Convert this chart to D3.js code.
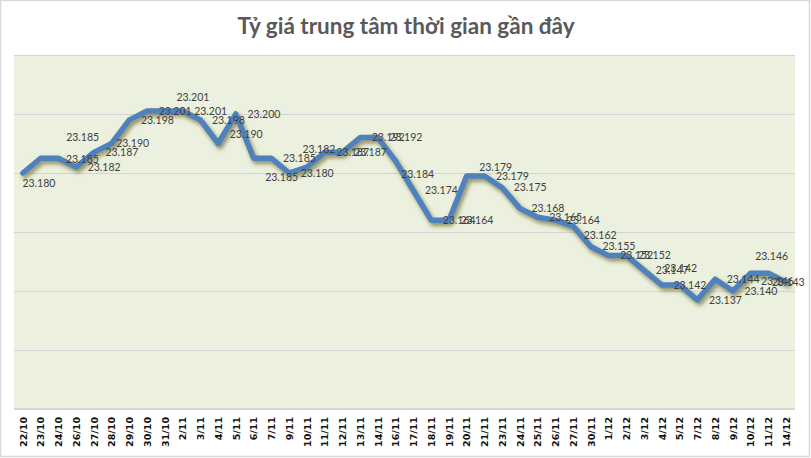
<!DOCTYPE html>
<html>
<head>
<meta charset="utf-8">
<script src="https://cdn.jsdelivr.net/npm/d3@7/dist/d3.min.js"></script>
<style>
  html, body { margin: 0; padding: 0; background: #fff; }
  svg { display: block; }
</style>
</head>
<body>
<svg id="chart" width="811" height="458"></svg>
<script>
// ---- data ----
const title = "Tỷ giá trung tâm thời gian gần đây";
const dates = ["22/10","23/10","24/10","26/10","27/10","28/10","29/10","30/10","31/10",
  "2/11","3/11","4/11","5/11","6/11","7/11","9/11","10/11","11/11","12/11","13/11","14/11",
  "16/11","17/11","18/11","19/11","20/11","21/11","23/11","24/11","25/11","26/11","27/11","30/11",
  "1/12","2/12","3/12","4/12","5/12","7/12","8/12","9/12","10/12","11/12","14/12"];
const rates = [23.180,23.185,23.185,23.182,23.187,23.190,23.198,23.201,23.201,
  23.201,23.198,23.190,23.200,23.185,23.185,23.180,23.182,23.187,23.187,23.192,23.192,
  23.184,23.174,23.164,23.164,23.179,23.179,23.175,23.168,23.165,23.164,23.162,23.155,
  23.152,23.152,23.147,23.142,23.142,23.137,23.144,23.140,23.146,23.146,23.143];
const yTicks = [23.100,23.120,23.140,23.160,23.180,23.200,23.220];

// ---- layout (label placement tweaks, not data) ----
const labelShift = {0:[16,10],1:[42,-21],2:[24,1],5:[21,0],8:[28,-14],11:[28,-9],13:[28,19],
  16:[12,-18],21:[22,13],25:[29,-9],31:[27,9],37:[1,-17],41:[21,-17],42:[9,8],43:[2,0]};

const svg = d3.select("#chart");
const W = 811, H = 458;
const plot = {left: 14, right: 795, top: 55, bottom: 409};

// outer border
svg.append("rect").attr("x",0.5).attr("y",0.5).attr("width",809).attr("height",456)
  .attr("fill","#fff").attr("stroke","#d9d9d9").attr("stroke-width",1.5);

// title
svg.append("text").attr("x", 406).attr("y", 34).attr("text-anchor","middle")
  .attr("font-family","Lato, 'Open Sans', sans-serif").attr("font-weight","bold")
  .attr("font-size", 22.5).attr("fill","#595959").text(title);

const x = d3.scalePoint().domain(dates).range([plot.left, plot.right]).padding(0.5);
const y = d3.scaleLinear().domain([yTicks[0], yTicks[yTicks.length-1]]).range([plot.bottom, plot.top]);

// plot background
svg.append("rect").attr("x",plot.left).attr("y",plot.top)
  .attr("width",plot.right-plot.left).attr("height",plot.bottom-plot.top)
  .attr("fill","#ebf1de");

// gridlines
const yAxis = d3.axisLeft(y).tickValues(yTicks).tickSize(-(plot.right-plot.left)).tickFormat("");
const gy = svg.append("g").attr("transform",`translate(${plot.left},0)`).call(yAxis);
gy.select(".domain").remove();
gy.selectAll(".tick line").attr("stroke","#d4d4d4").attr("stroke-width",1);

// x axis
const xAxis = d3.axisBottom(x).tickSize(0).tickPadding(0);
const gx = svg.append("g").attr("transform",`translate(0,${plot.bottom})`).call(xAxis);
gx.select(".domain").attr("stroke","#d0d0d0").attr("stroke-width",1.5)
  .attr("d", `M${plot.left},0H${plot.right}`);
gx.selectAll(".tick text")
  .attr("transform","rotate(-90)")
  .attr("x", -8).attr("y", 0).attr("dy","0.35em")
  .attr("text-anchor","end")
  .attr("font-family","'DejaVu Sans', Verdana, sans-serif")
  .attr("font-weight","bold").attr("font-size", 9.5).attr("fill","#111");

// shadow filter
const defs = svg.append("defs");
const f = defs.append("filter").attr("id","shadow").attr("x","-5%").attr("y","-10%")
  .attr("width","110%").attr("height","130%");
f.append("feDropShadow").attr("dx",2).attr("dy",3).attr("stdDeviation",2)
  .attr("flood-color","#6e6a2e").attr("flood-opacity",0.75);

// line
const line = d3.line().x((d,i)=>x(dates[i])).y(d=>y(d));
svg.append("path").datum(rates).attr("d",line)
  .attr("fill","none").attr("stroke","#4f81bd").attr("stroke-width",5.5)
  .attr("stroke-linejoin","round").attr("stroke-linecap","round")
  .attr("filter","url(#shadow)");

// data labels
svg.append("g").selectAll("text").data(rates).join("text")
  .attr("x",(d,i)=>x(dates[i]) + (labelShift[i] ? labelShift[i][0] : 28))
  .attr("y",(d,i)=>y(d) + (labelShift[i] ? labelShift[i][1] : 0))
  .attr("dy","0.35em").attr("text-anchor","middle")
  .attr("font-family","Lato, 'Open Sans', sans-serif").attr("font-size",10.5)
  .attr("fill","#404040")
  .text(d=>d3.format(".3f")(d));
</script>
</body>
</html>
